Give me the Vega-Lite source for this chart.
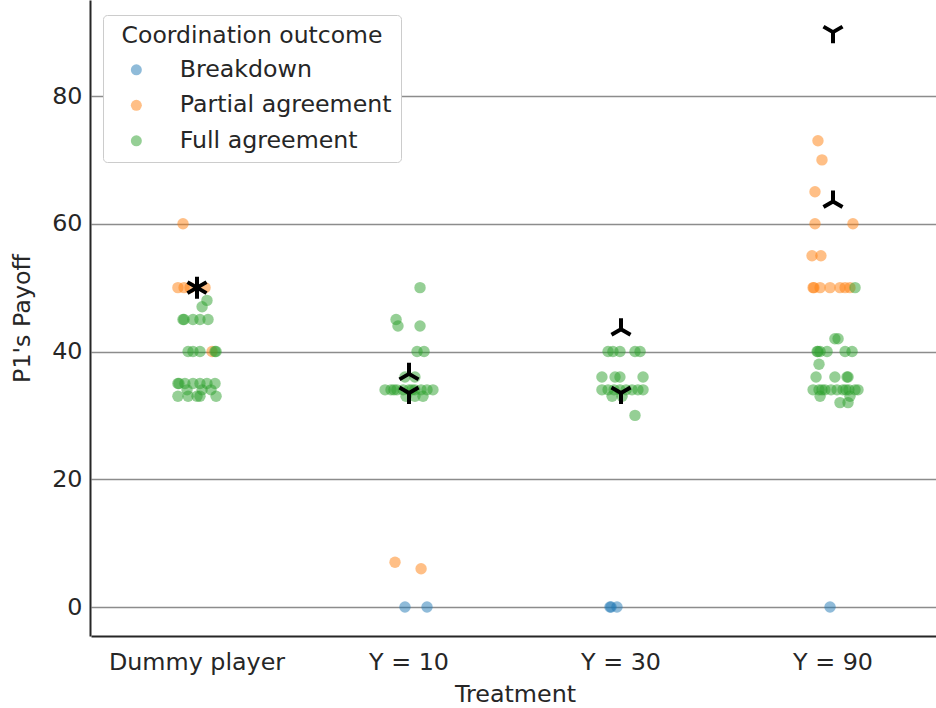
{
  "$schema": "https://vega.github.io/schema/vega-lite/v6.json",
  "width": 846,
  "height": 636,
  "autosize": {"type": "none"},
  "padding": {"left": 90, "top": 0, "right": 0, "bottom": 72},
  "background": "white",
  "config": {
    "font": "DejaVu Sans",
    "view": {"stroke": null},
    "axis": {
      "labelColor": "#262626",
      "titleColor": "#262626",
      "labelFontSize": 23.8,
      "titleFontSize": 23.8,
      "titleFontWeight": "normal",
      "domainColor": "#262626",
      "domainWidth": 2,
      "ticks": false
    }
  },
  "datasets": {
    "points": [
      {"treatment": "Y = 10", "outcome": "Breakdown", "payoff": 0, "jitter": -0.019},
      {"treatment": "Y = 10", "outcome": "Breakdown", "payoff": 0, "jitter": 0.085},
      {"treatment": "Y = 30", "outcome": "Breakdown", "payoff": 0, "jitter": -0.052},
      {"treatment": "Y = 30", "outcome": "Breakdown", "payoff": 0, "jitter": -0.047},
      {"treatment": "Y = 30", "outcome": "Breakdown", "payoff": 0, "jitter": -0.019},
      {"treatment": "Y = 90", "outcome": "Breakdown", "payoff": 0, "jitter": -0.014},

      {"treatment": "Dummy player", "outcome": "Partial agreement", "payoff": 60, "jitter": -0.066},
      {"treatment": "Dummy player", "outcome": "Partial agreement", "payoff": 50, "jitter": -0.090},
      {"treatment": "Dummy player", "outcome": "Partial agreement", "payoff": 50, "jitter": -0.061},
      {"treatment": "Dummy player", "outcome": "Partial agreement", "payoff": 50, "jitter": -0.033},
      {"treatment": "Dummy player", "outcome": "Partial agreement", "payoff": 50, "jitter": 0.038},
      {"treatment": "Dummy player", "outcome": "Partial agreement", "payoff": 40, "jitter": 0.071},
      {"treatment": "Y = 10", "outcome": "Partial agreement", "payoff": 7, "jitter": -0.066},
      {"treatment": "Y = 10", "outcome": "Partial agreement", "payoff": 6, "jitter": 0.057},
      {"treatment": "Y = 90", "outcome": "Partial agreement", "payoff": 73, "jitter": -0.071},
      {"treatment": "Y = 90", "outcome": "Partial agreement", "payoff": 70, "jitter": -0.052},
      {"treatment": "Y = 90", "outcome": "Partial agreement", "payoff": 65, "jitter": -0.085},
      {"treatment": "Y = 90", "outcome": "Partial agreement", "payoff": 60, "jitter": -0.085},
      {"treatment": "Y = 90", "outcome": "Partial agreement", "payoff": 60, "jitter": 0.094},
      {"treatment": "Y = 90", "outcome": "Partial agreement", "payoff": 55, "jitter": -0.099},
      {"treatment": "Y = 90", "outcome": "Partial agreement", "payoff": 55, "jitter": -0.057},
      {"treatment": "Y = 90", "outcome": "Partial agreement", "payoff": 50, "jitter": -0.094},
      {"treatment": "Y = 90", "outcome": "Partial agreement", "payoff": 50, "jitter": -0.090},
      {"treatment": "Y = 90", "outcome": "Partial agreement", "payoff": 50, "jitter": -0.061},
      {"treatment": "Y = 90", "outcome": "Partial agreement", "payoff": 50, "jitter": -0.014},
      {"treatment": "Y = 90", "outcome": "Partial agreement", "payoff": 50, "jitter": 0.033},
      {"treatment": "Y = 90", "outcome": "Partial agreement", "payoff": 50, "jitter": 0.057},
      {"treatment": "Y = 90", "outcome": "Partial agreement", "payoff": 50, "jitter": 0.080},

      {"treatment": "Dummy player", "outcome": "Full agreement", "payoff": 48, "jitter": 0.047},
      {"treatment": "Dummy player", "outcome": "Full agreement", "payoff": 47, "jitter": 0.024},
      {"treatment": "Dummy player", "outcome": "Full agreement", "payoff": 45, "jitter": -0.066},
      {"treatment": "Dummy player", "outcome": "Full agreement", "payoff": 45, "jitter": -0.061},
      {"treatment": "Dummy player", "outcome": "Full agreement", "payoff": 45, "jitter": -0.019},
      {"treatment": "Dummy player", "outcome": "Full agreement", "payoff": 45, "jitter": 0.014},
      {"treatment": "Dummy player", "outcome": "Full agreement", "payoff": 45, "jitter": 0.052},
      {"treatment": "Dummy player", "outcome": "Full agreement", "payoff": 40, "jitter": -0.042},
      {"treatment": "Dummy player", "outcome": "Full agreement", "payoff": 40, "jitter": -0.019},
      {"treatment": "Dummy player", "outcome": "Full agreement", "payoff": 40, "jitter": 0.014},
      {"treatment": "Dummy player", "outcome": "Full agreement", "payoff": 40, "jitter": 0.085},
      {"treatment": "Dummy player", "outcome": "Full agreement", "payoff": 40, "jitter": 0.090},
      {"treatment": "Dummy player", "outcome": "Full agreement", "payoff": 35, "jitter": -0.090},
      {"treatment": "Dummy player", "outcome": "Full agreement", "payoff": 35, "jitter": -0.085},
      {"treatment": "Dummy player", "outcome": "Full agreement", "payoff": 35, "jitter": -0.057},
      {"treatment": "Dummy player", "outcome": "Full agreement", "payoff": 35, "jitter": -0.019},
      {"treatment": "Dummy player", "outcome": "Full agreement", "payoff": 35, "jitter": 0.014},
      {"treatment": "Dummy player", "outcome": "Full agreement", "payoff": 35, "jitter": 0.047},
      {"treatment": "Dummy player", "outcome": "Full agreement", "payoff": 35, "jitter": 0.085},
      {"treatment": "Dummy player", "outcome": "Full agreement", "payoff": 34, "jitter": -0.047},
      {"treatment": "Dummy player", "outcome": "Full agreement", "payoff": 34, "jitter": 0.024},
      {"treatment": "Dummy player", "outcome": "Full agreement", "payoff": 34, "jitter": 0.066},
      {"treatment": "Dummy player", "outcome": "Full agreement", "payoff": 33, "jitter": -0.090},
      {"treatment": "Dummy player", "outcome": "Full agreement", "payoff": 33, "jitter": -0.042},
      {"treatment": "Dummy player", "outcome": "Full agreement", "payoff": 33, "jitter": 0.0},
      {"treatment": "Dummy player", "outcome": "Full agreement", "payoff": 33, "jitter": 0.014},
      {"treatment": "Dummy player", "outcome": "Full agreement", "payoff": 33, "jitter": 0.090},

      {"treatment": "Y = 10", "outcome": "Full agreement", "payoff": 50, "jitter": 0.052},
      {"treatment": "Y = 10", "outcome": "Full agreement", "payoff": 45, "jitter": -0.061},
      {"treatment": "Y = 10", "outcome": "Full agreement", "payoff": 44, "jitter": -0.052},
      {"treatment": "Y = 10", "outcome": "Full agreement", "payoff": 44, "jitter": 0.052},
      {"treatment": "Y = 10", "outcome": "Full agreement", "payoff": 40, "jitter": 0.038},
      {"treatment": "Y = 10", "outcome": "Full agreement", "payoff": 40, "jitter": 0.071},
      {"treatment": "Y = 10", "outcome": "Full agreement", "payoff": 36, "jitter": -0.019},
      {"treatment": "Y = 10", "outcome": "Full agreement", "payoff": 36, "jitter": 0.028},
      {"treatment": "Y = 10", "outcome": "Full agreement", "payoff": 34, "jitter": -0.113},
      {"treatment": "Y = 10", "outcome": "Full agreement", "payoff": 34, "jitter": -0.085},
      {"treatment": "Y = 10", "outcome": "Full agreement", "payoff": 34, "jitter": -0.071},
      {"treatment": "Y = 10", "outcome": "Full agreement", "payoff": 34, "jitter": -0.057},
      {"treatment": "Y = 10", "outcome": "Full agreement", "payoff": 34, "jitter": -0.028},
      {"treatment": "Y = 10", "outcome": "Full agreement", "payoff": 34, "jitter": 0.0},
      {"treatment": "Y = 10", "outcome": "Full agreement", "payoff": 34, "jitter": 0.014},
      {"treatment": "Y = 10", "outcome": "Full agreement", "payoff": 34, "jitter": 0.028},
      {"treatment": "Y = 10", "outcome": "Full agreement", "payoff": 34, "jitter": 0.057},
      {"treatment": "Y = 10", "outcome": "Full agreement", "payoff": 34, "jitter": 0.085},
      {"treatment": "Y = 10", "outcome": "Full agreement", "payoff": 34, "jitter": 0.113},
      {"treatment": "Y = 10", "outcome": "Full agreement", "payoff": 33, "jitter": -0.014},
      {"treatment": "Y = 10", "outcome": "Full agreement", "payoff": 33, "jitter": 0.028},
      {"treatment": "Y = 10", "outcome": "Full agreement", "payoff": 33, "jitter": 0.066},

      {"treatment": "Y = 30", "outcome": "Full agreement", "payoff": 40, "jitter": -0.061},
      {"treatment": "Y = 30", "outcome": "Full agreement", "payoff": 40, "jitter": -0.038},
      {"treatment": "Y = 30", "outcome": "Full agreement", "payoff": 40, "jitter": -0.005},
      {"treatment": "Y = 30", "outcome": "Full agreement", "payoff": 40, "jitter": 0.066},
      {"treatment": "Y = 30", "outcome": "Full agreement", "payoff": 40, "jitter": 0.090},
      {"treatment": "Y = 30", "outcome": "Full agreement", "payoff": 36, "jitter": -0.090},
      {"treatment": "Y = 30", "outcome": "Full agreement", "payoff": 36, "jitter": -0.028},
      {"treatment": "Y = 30", "outcome": "Full agreement", "payoff": 36, "jitter": -0.005},
      {"treatment": "Y = 30", "outcome": "Full agreement", "payoff": 36, "jitter": 0.104},
      {"treatment": "Y = 30", "outcome": "Full agreement", "payoff": 34, "jitter": -0.090},
      {"treatment": "Y = 30", "outcome": "Full agreement", "payoff": 34, "jitter": -0.061},
      {"treatment": "Y = 30", "outcome": "Full agreement", "payoff": 34, "jitter": -0.033},
      {"treatment": "Y = 30", "outcome": "Full agreement", "payoff": 34, "jitter": -0.005},
      {"treatment": "Y = 30", "outcome": "Full agreement", "payoff": 34, "jitter": 0.024},
      {"treatment": "Y = 30", "outcome": "Full agreement", "payoff": 34, "jitter": 0.052},
      {"treatment": "Y = 30", "outcome": "Full agreement", "payoff": 34, "jitter": 0.080},
      {"treatment": "Y = 30", "outcome": "Full agreement", "payoff": 34, "jitter": 0.104},
      {"treatment": "Y = 30", "outcome": "Full agreement", "payoff": 33, "jitter": -0.042},
      {"treatment": "Y = 30", "outcome": "Full agreement", "payoff": 33, "jitter": 0.005},
      {"treatment": "Y = 30", "outcome": "Full agreement", "payoff": 30, "jitter": 0.066},

      {"treatment": "Y = 90", "outcome": "Full agreement", "payoff": 50, "jitter": 0.104},
      {"treatment": "Y = 90", "outcome": "Full agreement", "payoff": 42, "jitter": 0.009},
      {"treatment": "Y = 90", "outcome": "Full agreement", "payoff": 42, "jitter": 0.024},
      {"treatment": "Y = 90", "outcome": "Full agreement", "payoff": 40, "jitter": -0.075},
      {"treatment": "Y = 90", "outcome": "Full agreement", "payoff": 40, "jitter": -0.071},
      {"treatment": "Y = 90", "outcome": "Full agreement", "payoff": 40, "jitter": -0.061},
      {"treatment": "Y = 90", "outcome": "Full agreement", "payoff": 40, "jitter": -0.028},
      {"treatment": "Y = 90", "outcome": "Full agreement", "payoff": 40, "jitter": 0.057},
      {"treatment": "Y = 90", "outcome": "Full agreement", "payoff": 40, "jitter": 0.090},
      {"treatment": "Y = 90", "outcome": "Full agreement", "payoff": 38, "jitter": -0.066},
      {"treatment": "Y = 90", "outcome": "Full agreement", "payoff": 36, "jitter": -0.080},
      {"treatment": "Y = 90", "outcome": "Full agreement", "payoff": 36, "jitter": 0.009},
      {"treatment": "Y = 90", "outcome": "Full agreement", "payoff": 36, "jitter": 0.066},
      {"treatment": "Y = 90", "outcome": "Full agreement", "payoff": 36, "jitter": 0.071},
      {"treatment": "Y = 90", "outcome": "Full agreement", "payoff": 34, "jitter": -0.094},
      {"treatment": "Y = 90", "outcome": "Full agreement", "payoff": 34, "jitter": -0.066},
      {"treatment": "Y = 90", "outcome": "Full agreement", "payoff": 34, "jitter": -0.052},
      {"treatment": "Y = 90", "outcome": "Full agreement", "payoff": 34, "jitter": -0.038},
      {"treatment": "Y = 90", "outcome": "Full agreement", "payoff": 34, "jitter": -0.009},
      {"treatment": "Y = 90", "outcome": "Full agreement", "payoff": 34, "jitter": 0.019},
      {"treatment": "Y = 90", "outcome": "Full agreement", "payoff": 34, "jitter": 0.047},
      {"treatment": "Y = 90", "outcome": "Full agreement", "payoff": 34, "jitter": 0.061},
      {"treatment": "Y = 90", "outcome": "Full agreement", "payoff": 34, "jitter": 0.075},
      {"treatment": "Y = 90", "outcome": "Full agreement", "payoff": 34, "jitter": 0.104},
      {"treatment": "Y = 90", "outcome": "Full agreement", "payoff": 34, "jitter": 0.118},
      {"treatment": "Y = 90", "outcome": "Full agreement", "payoff": 33, "jitter": -0.061},
      {"treatment": "Y = 90", "outcome": "Full agreement", "payoff": 33, "jitter": 0.080},
      {"treatment": "Y = 90", "outcome": "Full agreement", "payoff": 32, "jitter": 0.033},
      {"treatment": "Y = 90", "outcome": "Full agreement", "payoff": 32, "jitter": 0.071}
    ],
    "stats": [
      {"treatment": "Dummy player", "payoff": 50, "marker": "asterisk"},
      {"treatment": "Y = 10", "payoff": 36.5, "marker": "tri_up"},
      {"treatment": "Y = 10", "payoff": 33.5, "marker": "tri_down"},
      {"treatment": "Y = 30", "payoff": 43.5, "marker": "tri_up"},
      {"treatment": "Y = 30", "payoff": 33.5, "marker": "tri_down"},
      {"treatment": "Y = 90", "payoff": 63.5, "marker": "tri_up"},
      {"treatment": "Y = 90", "payoff": 90, "marker": "tri_down"}
    ]
  },
  "encoding": {
    "x": {
      "field": "treatment",
      "type": "nominal",
      "scale": {"domain": ["Dummy player", "Y = 10", "Y = 30", "Y = 90"], "paddingInner": 0, "paddingOuter": 0, "range": [1, 849]},
      "axis": {"title": "Treatment", "labelAngle": 0, "labelPadding": 14, "titlePadding": 9, "grid": false}
    },
    "y": {
      "field": "payoff",
      "type": "quantitative",
      "scale": {"domain": [-4.54, 95.03], "nice": false, "zero": false},
      "axis": {"title": "P1's Payoff", "values": [0, 20, 40, 60, 80], "grid": true, "gridColor": "#8c8c8c", "gridWidth": 1.5, "labelPadding": 8, "titlePadding": 17}
    }
  },
  "layer": [
    {
      "data": {"name": "points"},
      "mark": {"type": "circle", "size": 130, "opacity": 0.5, "strokeWidth": 0},
      "encoding": {
        "xOffset": {"field": "jitter", "type": "quantitative", "scale": {"domain": [-0.5, 0.5]}},
        "color": {
          "field": "outcome",
          "type": "nominal",
          "scale": {"domain": ["Breakdown", "Partial agreement", "Full agreement"], "range": ["#1f77b4", "#ff7f0e", "#2ca02c"]},
          "legend": {
            "title": "Coordination outcome",
            "orient": "none",
            "legendX": 13,
            "legendY": 15,
            "fillColor": "white",
            "strokeColor": "#cccccc",
            "cornerRadius": 4,
            "padding": 9,
            "titleFontSize": 23.5,
            "titleFontWeight": "normal",
            "titleColor": "#262626",
            "titleAnchor": "middle",
            "titlePadding": 10.5,
            "titleLimit": 500,
            "labelFontSize": 23.7,
            "labelColor": "#262626",
            "labelLimit": 500,
            "symbolType": "circle",
            "symbolSize": 121,
            "symbolOpacity": 0.5,
            "symbolStrokeWidth": 0,
            "symbolOffset": 12.5,
            "labelOffset": 31.5,
            "rowPadding": 10.5
          }
        }
      }
    },
    {
      "data": {"name": "stats"},
      "mark": {"type": "point", "filled": false, "stroke": "black", "strokeWidth": 4, "size": 484, "opacity": 1, "strokeCap": "butt"},
      "encoding": {
        "shape": {
          "field": "marker",
          "type": "nominal",
          "scale": {
            "domain": ["asterisk", "tri_up", "tri_down"],
            "range": [
              "M0,-1L0,1M-0.866,-0.5L0.866,0.5M-0.866,0.5L0.866,-0.5",
              "M0,0L0,-1M0,0L-0.866,0.5M0,0L0.866,0.5",
              "M0,0L0,1M0,0L-0.866,-0.5M0,0L0.866,-0.5"
            ]
          },
          "legend": null
        }
      }
    }
  ]
}
